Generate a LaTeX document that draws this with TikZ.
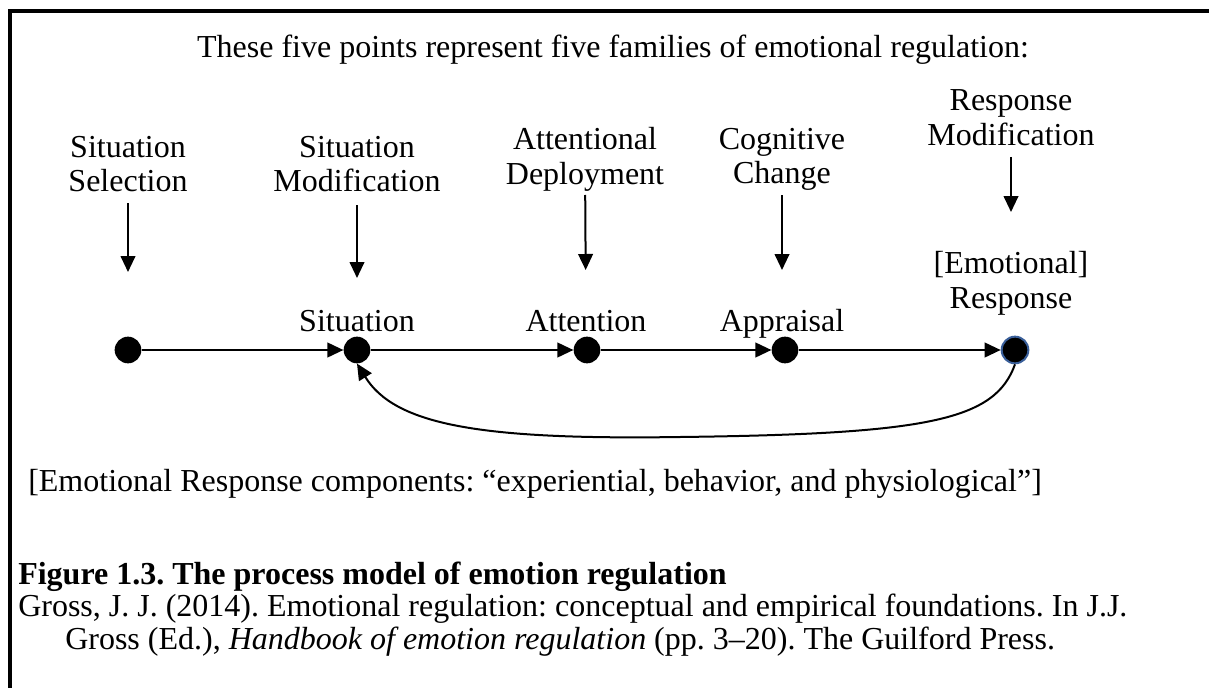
\documentclass[tikz,border=0pt]{standalone}
\usepackage{fontspec}
\setmainfont{Liberation Serif}
\usetikzlibrary{arrows.meta,positioning}
\definecolor{rimblue}{HTML}{3A5F9A}

\tikzset{
  lbl/.style={align=center, inner sep=0pt, font=\fontsize{24}{26}\selectfont,
    execute at begin node=\strut, execute at end node=\strut},
  txt/.style={anchor=base west, inner sep=0pt, font=\fontsize{24}{26}\selectfont\frenchspacing},
  dot/.style={circle, fill=black, minimum size=20pt, inner sep=0pt},
  arr/.style={-{Triangle[length=12pt,width=11pt]}, line width=1.5pt},
}

\begin{document}
\begin{tikzpicture}[x=0.75pt,y=-0.75pt]
              \useasboundingbox (0,0) rectangle (1209,688);
              \draw[line width=3pt] (10,688) -- (10,11) -- (1209,11);

              \node[lbl] (title) at (613,51) {These five points represent five families of emotional regulation:};

              % families of regulation
              \node[lbl] (sel) at (128,169) {Situation\\Selection};
              \node[lbl] (mod) at (357,169) {Situation\\Modification};
              \node[lbl] (att) at (585,161) {Attentional\\Deployment};
              \node[lbl] (cog) at (782,161) {Cognitive\\Change};
              \node[lbl] (resp) at (1011,123) {Response\\Modification};

              % stages of the process
              \node[lbl] (situ) at (357,325) {Situation};
              \node[lbl] (attn) at (586,325) {Attention};
              \node[lbl] (appr) at (782,325) {Appraisal};
              \node[lbl] (emo) at (1011,285) {[Emotional]\\Response};

              \node[dot] (d1) at (128,350) {};
              \node[dot] (d2) at (357,350) {};
              \node[dot] (d3) at (587,350) {};
              \node[dot] (d4) at (785,350) {};
              \node[dot, draw=rimblue, line width=1.5pt] (d5) at (1015,350) {};

              \draw[arr, shorten <=25.5pt, shorten >=58.5pt] (sel.center) -- (d1.center);
              \draw[arr, shorten <=27pt, shorten >=35.25pt] (mod.center) -- (situ.center);
              \draw[arr, shorten <=25.5pt, shorten >=41.25pt] (att.center) -- (attn.center);
              \draw[arr, shorten <=25.5pt, shorten >=41.25pt] (cog.center) -- (appr.center);
              \draw[arr, shorten <=25.5pt, shorten >=54.75pt] (resp.center) -- (emo.center);

              \draw[arr] (d1) -- (d2);
              \draw[arr] (d2) -- (d3);
              \draw[arr] (d3) -- (d4);
              \draw[arr] (d4) -- (d5);
              % feedback loop
              \draw[arr] (d5.south) .. controls (995,420) and (930,434) .. (680,437)
                .. controls (480,440) and (395,425) .. (d2.south);

              \node[txt] (note) at (28,491) {[Emotional Response components: “experiential, behavior, and physiological”]};

              \node[txt, font=\fontsize{24}{26}\selectfont\bfseries\frenchspacing] (fig) at (18,584) {Figure 1.3. The process model of emotion regulation};
              \node[txt] (cite) at (18,616) {Gross, J. J. (2014). Emotional regulation: conceptual and empirical foundations. In J.J.};
              \node[txt] (cite2) at (65,649) {Gross (Ed.), \textit{Handbook of emotion regulation} (pp. 3–20). The Guilford Press.};

            \end{tikzpicture}
\end{document}
